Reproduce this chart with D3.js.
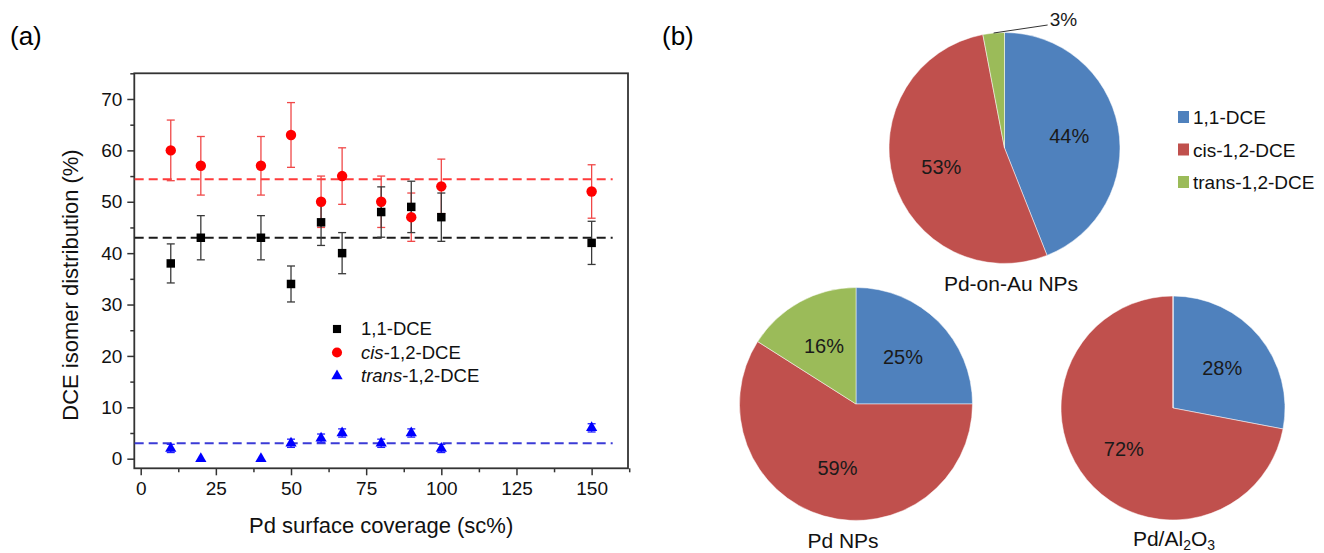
<!DOCTYPE html>
<html>
<head>
<meta charset="utf-8">
<script src="https://cdn.jsdelivr.net/npm/d3@7"></script>
<style>
  body { margin: 0; background: #fff; }
  svg text { font-family: "Liberation Sans", Arial, sans-serif; }
</style>
</head>
<body>
<div id="chart"></div>
<script>
  // (a) scatter data
  const coverage = [10, 20, 40, 50, 60, 67, 80, 90, 100, 150];
  const dce11 = [38, 43, 43, 34, 46, 40, 48, 49, 47, 42];
  const dce11Err = [3.8, 4.3, 4.3, 3.5, 4.5, 4.0, 4.9, 5.0, 4.7, 4.2];
  const cisDce = [60, 57, 57, 63, 50, 55, 50, 47, 53, 52];
  const cisErr = [5.9, 5.7, 5.7, 6.3, 5.0, 5.5, 5.0, 4.7, 5.3, 5.2];
  const transDce = [2, 0, 0, 3, 4, 5, 3, 5, 2, 6];
  const transErr = [0.8, 0, 0, 0.8, 0.8, 0.8, 0.8, 0.8, 0.8, 0.8];
  const meanLines = [43.0, 54.4, 3.0];
  const xTicks = [0, 25, 50, 75, 100, 125, 150];
  const yTicks = [0, 10, 20, 30, 40, 50, 60, 70];

  // (b) pie data
  const isomers = ["1,1-DCE", "cis-1,2-DCE", "trans-1,2-DCE"];
  const pieOnAu = [44, 53, 3];
  const piePdNP = [25, 59, 16];
  const pieAl2O3 = [28, 72, 0];

  const width = 1324;
  const height = 553;
  const svg = d3.select("#chart").append("svg").attr("width", width).attr("height", height);

  // ---------- panel (a) ----------
  const frame = { left: 134.3, right: 628, top: 73.3, bottom: 468.3 };
  const xScale = d3.scaleLinear().domain([-2.13, 162.1]).range([frame.left, frame.right]);
  const yScale = d3.scaleLinear().domain([-1.87, 75]).range([frame.bottom, frame.top]);

  svg.append("text").attr("x", 10).attr("y", 45).attr("font-size", 26).text("(a)");
  svg.append("text").attr("x", 662).attr("y", 45).attr("font-size", 26).text("(b)");

  const xAxis = svg.append("g").attr("transform", `translate(0, ${frame.bottom})`);
  xAxis.call(d3.axisBottom(xScale).tickValues(xTicks).tickSize(7).tickPadding(6).tickFormat(d3.format("d")));
  const xMinor = svg.append("g").attr("transform", `translate(0, ${frame.bottom})`);
  xMinor.call(d3.axisBottom(xScale).tickValues(xTicks.map(d => d + 12.5)).tickSize(4).tickFormat(""));

  const yAxis = svg.append("g").attr("transform", `translate(${frame.left}, 0)`);
  yAxis.call(d3.axisLeft(yScale).tickValues(yTicks).tickSize(7).tickPadding(5).tickFormat(d3.format("d")));
  const yMinor = svg.append("g").attr("transform", `translate(${frame.left}, 0)`);
  yMinor.call(d3.axisLeft(yScale).tickValues(yTicks.map(d => d + 5)).tickSize(4).tickFormat(""));

  svg.selectAll(".domain").remove();
  svg.selectAll(".tick line").attr("stroke", "#333").attr("stroke-width", 1.5);
  svg.selectAll(".tick text").attr("font-size", 19).attr("fill", "#111")
    .attr("font-family", "'Liberation Sans', Arial, sans-serif");

  svg.append("rect")
    .attr("x", frame.left).attr("y", frame.top)
    .attr("width", frame.right - frame.left).attr("height", frame.bottom - frame.top)
    .attr("fill", "none").attr("stroke", "#333").attr("stroke-width", 1.8);

  svg.append("text")
    .attr("x", (frame.left + frame.right) / 2).attr("y", 533)
    .attr("text-anchor", "middle").attr("font-size", 22).attr("fill", "#111")
    .text("Pd surface coverage (sc%)");
  svg.append("text")
    .attr("transform", `translate(78, 285) rotate(-90)`)
    .attr("text-anchor", "middle").attr("font-size", 22).attr("fill", "#111")
    .text("DCE isomer distribution (%)");

  const plot = svg.append("g");

  // mean (dashed) lines
  const meanColors = ["#1a1a1a", "#ff3b3b", "#3b3bd6"];
  plot.selectAll(".mean")
    .data(meanLines)
    .join("line")
    .attr("class", "mean")
    .attr("x1", xScale(-2)).attr("x2", xScale(157))
    .attr("y1", d => yScale(d)).attr("y2", d => yScale(d))
    .attr("stroke", (d, i) => meanColors[i])
    .attr("stroke-width", 2)
    .attr("stroke-dasharray", "9,5");

  const series = [
    { key: "cis", vals: cisDce, errs: cisErr, color: "#ff0000", bar: "#f04848", symbol: d3.symbolCircle, size: 85 },
    { key: "11", vals: dce11, errs: dce11Err, color: "#000000", bar: "#3a3a3a", symbol: d3.symbolSquare, size: 72 },
    { key: "trans", vals: transDce, errs: transErr, color: "#0000ff", bar: "#2020ff", symbol: d3.symbolTriangle, size: 55 },
  ];

  series.forEach(s => {
    const pts = coverage.map((x, i) => ({ x, y: s.vals[i], e: s.errs[i] })).filter(p => p.e > 0);
    const eg = plot.append("g").attr("stroke", s.bar).attr("stroke-width", 1.3);
    eg.selectAll(".bar").data(pts).join("line")
      .attr("x1", d => xScale(d.x)).attr("x2", d => xScale(d.x))
      .attr("y1", d => yScale(d.y - d.e)).attr("y2", d => yScale(d.y + d.e));
    eg.selectAll(".capT").data(pts).join("line")
      .attr("x1", d => xScale(d.x) - 4).attr("x2", d => xScale(d.x) + 4)
      .attr("y1", d => yScale(d.y + d.e)).attr("y2", d => yScale(d.y + d.e));
    eg.selectAll(".capB").data(pts).join("line")
      .attr("x1", d => xScale(d.x) - 4).attr("x2", d => xScale(d.x) + 4)
      .attr("y1", d => yScale(d.y - d.e)).attr("y2", d => yScale(d.y - d.e));
  });

  series.forEach(s => {
    plot.append("g").selectAll("path")
      .data(coverage.map((x, i) => ({ x, y: s.vals[i] })))
      .join("path")
      .attr("d", d3.symbol().type(s.symbol).size(s.size))
      .attr("transform", d => `translate(${xScale(d.x)}, ${yScale(d.y)})`)
      .attr("fill", s.color);
  });

  // legend inside plot
  const legendItems = [
    { sym: d3.symbolSquare, size: 66, color: "#000", italic: "", rest: "1,1-DCE" },
    { sym: d3.symbolCircle, size: 80, color: "#ff0000", italic: "cis", rest: "-1,2-DCE" },
    { sym: d3.symbolTriangle, size: 55, color: "#0000ff", italic: "trans", rest: "-1,2-DCE" },
  ];
  const leg = svg.append("g").attr("transform", "translate(337, 329)");
  const legRows = leg.selectAll("g").data(legendItems).join("g")
    .attr("transform", (d, i) => `translate(0, ${i * 23.5})`);
  legRows.append("path").attr("d", d => d3.symbol().type(d.sym).size(d.size)()).attr("fill", d => d.color);
  const legText = legRows.append("text").attr("x", 24).attr("y", 6).attr("font-size", 18.5).attr("fill", "#111");
  legText.append("tspan").attr("font-style", "italic").text(d => d.italic);
  legText.append("tspan").text(d => d.rest);

  // ---------- panel (b) ----------
  const pieColors = ["#4f81bd", "#c0504d", "#9bbb59"];
  const pies = [
    { values: pieOnAu, cx: 1004.5, cy: 148, r: 115.5, title: "Pd-on-Au NPs", tx: 1011, ty: 291 },
    { values: piePdNP, cx: 856, cy: 404, r: 116.5, title: "Pd NPs", tx: 843, ty: 548 },
    { values: pieAl2O3, cx: 1173, cy: 408, r: 112, title: "Pd/Al2O3", tx: 1174, ty: 546 },
  ];
  const pieGen = d3.pie().sort(null).value(d => d);

  pies.forEach(p => {
    const g = svg.append("g").attr("transform", `translate(${p.cx}, ${p.cy})`);
    const arcs = pieGen(p.values);
    const arc = d3.arc().innerRadius(0).outerRadius(p.r);
    const labelArc = d3.arc().innerRadius(p.r * 0.57).outerRadius(p.r * 0.57);
    const edgeArc = d3.arc().innerRadius(p.r).outerRadius(p.r);

    g.selectAll(".slice").data(arcs).join("path")
      .attr("d", arc)
      .attr("fill", (d, i) => pieColors[i])
      .attr("stroke", "#fff").attr("stroke-width", 0.5);

    g.selectAll(".lbl").data(arcs.filter(d => d.value >= 5)).join("text")
      .attr("transform", d => `translate(${labelArc.centroid(d)})`)
      .attr("text-anchor", "middle").attr("dy", "0.36em")
      .attr("font-size", 20).attr("fill", "#1a1a1a")
      .text(d => `${d.value}%`);

    // small slices get a leader line
    arcs.filter(d => d.value > 0 && d.value < 5).forEach(d => {
      const [ex, ey] = edgeArc.centroid(d);
      g.append("line")
        .attr("x1", ex).attr("y1", ey)
        .attr("x2", ex + 54).attr("y2", ey - 8)
        .attr("stroke", "#333").attr("stroke-width", 1);
      g.append("text")
        .attr("x", ex + 56).attr("y", ey - 7)
        .attr("font-size", 19).attr("fill", "#1a1a1a")
        .text(`${d.value}%`);
    });

    const t = svg.append("text").attr("x", p.tx).attr("y", p.ty)
      .attr("text-anchor", "middle").attr("font-size", 21).attr("fill", "#111");
    if (p.title === "Pd/Al2O3") {
      t.append("tspan").text("Pd/Al");
      t.append("tspan").attr("font-size", 14).attr("dy", 4).text("2");
      t.append("tspan").attr("dy", -4).text("O");
      t.append("tspan").attr("font-size", 14).attr("dy", 4).text("3");
    } else {
      t.text(p.title);
    }
  });

  const pieLeg = svg.append("g").attr("transform", "translate(1178, 117)");
  const pieLegRows = pieLeg.selectAll("g").data(isomers).join("g")
    .attr("transform", (d, i) => `translate(0, ${i * 32.5})`);
  pieLegRows.append("rect").attr("x", 0).attr("y", -6).attr("width", 11).attr("height", 12)
    .attr("fill", (d, i) => pieColors[i]);
  pieLegRows.append("text").attr("x", 15).attr("y", 7).attr("font-size", 19).attr("fill", "#111").text(d => d);
</script>
</body>
</html>
